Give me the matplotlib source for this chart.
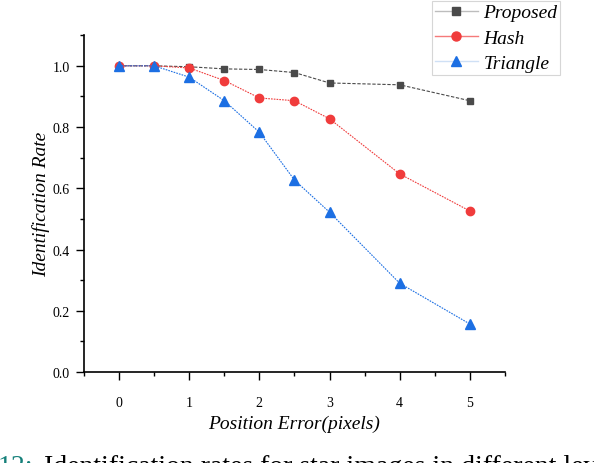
import matplotlib
matplotlib.use('Agg')
import matplotlib.pyplot as plt
from matplotlib.lines import Line2D
from matplotlib.ticker import MultipleLocator

# position error (pixels)
errors = [0, 0.5, 1, 1.5, 2, 2.5, 3, 4, 5]
proposed = [1.0, 1.0, 0.997, 0.990, 0.988, 0.978, 0.944, 0.938, 0.886]
hash_rate = [1.0, 1.0, 0.993, 0.952, 0.895, 0.886, 0.827, 0.647, 0.526]
triangle = [1.0, 1.0, 0.963, 0.886, 0.783, 0.627, 0.522, 0.290, 0.157]

names = ['Proposed', 'Hash', 'Triangle']
xticks = [0, 1, 2, 3, 4, 5]
yticks = [0.0, 0.2, 0.4, 0.6, 0.8, 1.0]

plt.rcParams['font.family'] = 'Liberation Serif'

fig = plt.figure(figsize=(5.94, 4.64), dpi=100)
ax = fig.add_axes([0.1414, 0.196, 0.7086, 0.726])

styles = [
    dict(color='#4a4a4a', light='#bdbdbd', ls=(0, (3, 1.5)), marker='s', ms=5),
    dict(color='#f03c3c', light='#f57a7a', ls=(0, (1.5, 1)), marker='o', ms=6),
    dict(color='#1c6fe3', light='#cfe0f5', ls=(0, (1.5, 1)), marker='^', ms=6.5),
]
handles = []
for ys, st in zip([proposed, hash_rate, triangle], styles):
    ax.plot(errors, ys, color=st['color'], ls=st['ls'], lw=0.8,
            marker=st['marker'], ms=st['ms'], mec=st['color'], mfc=st['color'])
    handles.append(Line2D([], [], color=st['light'], lw=1.0,
                          marker=st['marker'], ms=st['ms'] + 0.5,
                          mec=st['color'], mfc=st['color']))

ax.set_xlim(-0.5, 5.5)
ax.set_ylim(0, 1.1)
ax.set_xticks(xticks)
ax.set_yticks(yticks)
ax.set_yticklabels(['%.1f' % v for v in yticks])
ax.xaxis.set_minor_locator(MultipleLocator(0.5))
ax.yaxis.set_minor_locator(MultipleLocator(0.1))
ax.tick_params(which='major', direction='out', length=6, width=1, labelsize=10)
ax.tick_params(axis='y', which='major', pad=4)
ax.tick_params(axis='x', which='major', pad=11)
ax.tick_params(which='minor', direction='out', length=3, width=1)

for s in ['top', 'right']:
    ax.spines[s].set_visible(False)
for s in ['left', 'bottom']:
    ax.spines[s].set_linewidth(1.2)

ax.set_xlabel('Position Error(pixels)', fontsize=14, style='italic', labelpad=4)
ax.set_ylabel('Identification Rate', fontsize=14, style='italic', labelpad=2)

leg = fig.legend(handles, names, loc='upper left', bbox_to_anchor=(0.727, 0.996),
                 prop={'style': 'italic', 'size': 14}, frameon=True, fancybox=False,
                 handlelength=2.2, borderpad=0.15, labelspacing=0.4, handletextpad=0.3,
                 borderaxespad=0)
leg.get_frame().set_edgecolor('#cccccc')
leg.get_frame().set_linewidth(0.8)

# caption, cut off at the bottom of the image like the source
fig.text(-0.004, -0.022, '12:', color='#15807a', fontsize=20, ha='left', va='baseline')
fig.text(0.074, -0.022, 'Identification rates for star images in different levels',
         color='black', fontsize=20, ha='left', va='baseline')

fig.savefig('out.png', dpi=100)
